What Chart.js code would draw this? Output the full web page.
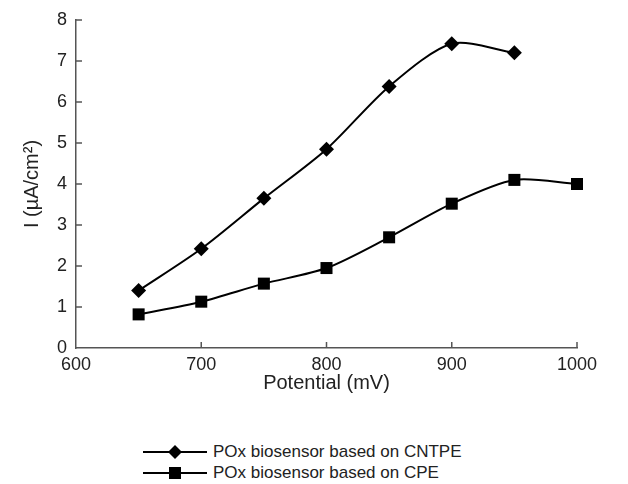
<!DOCTYPE html>
<html>
<head>
<meta charset="utf-8">
<script src="https://cdn.jsdelivr.net/npm/chart.js@4/dist/chart.umd.min.js"></script>
<style>
  html, body { margin: 0; padding: 0; background: #fff; }
  #wrap { position: relative; width: 628px; height: 484px; }
  #chartBox { position: absolute; left: 0; top: 0; width: 628px; height: 400px; }
  #legend { position: absolute; left: 143px; top: 441px; font-family: "Liberation Sans", Arial, sans-serif; font-size: 17px; color: #222; }
  .row { display: flex; align-items: center; height: 21px; }
  .row svg { margin-right: 6px; }
</style>
</head>
<body>
<div id="wrap">
  <div id="chartBox"><canvas id="c"></canvas></div>
  <div id="legend">
    <div class="row"><svg width="64" height="16"><line x1="0" y1="8" x2="64" y2="8" stroke="#000" stroke-width="2"/><polygon points="32,1 39,8 32,15 25,8" fill="#000"/></svg><span id="l1"></span></div>
    <div class="row"><svg width="64" height="16"><line x1="0" y1="8" x2="64" y2="8" stroke="#000" stroke-width="2"/><rect x="26" y="2" width="12" height="12" fill="#000"/></svg><span id="l2"></span></div>
  </div>
</div>
<script>
const seriesNames = ["POx biosensor based on CNTPE", "POx biosensor based on CPE"];
const potentialCNTPE = [650, 700, 750, 800, 850, 900, 950];
const currentCNTPE = [1.40, 2.42, 3.65, 4.85, 6.38, 7.42, 7.20];
const potentialCPE = [650, 700, 750, 800, 850, 900, 950, 1000];
const currentCPE = [0.82, 1.13, 1.57, 1.95, 2.70, 3.52, 4.10, 4.00];
const xTicks = [600, 700, 800, 900, 1000];
const yTicks = [0, 1, 2, 3, 4, 5, 6, 7, 8];
const xTitle = "Potential (mV)";
const yTitle = "I (\u00B5A/cm\u00B2)";

document.getElementById('l1').textContent = seriesNames[0];
document.getElementById('l2').textContent = seriesNames[1];

const toXY = (xs, ys) => xs.map((x, i) => ({x: x, y: ys[i]}));
const FONT = "'Liberation Sans', Arial, sans-serif";
const AXIS = '#555';

const inwardTicks = {
  id: 'inwardTicks',
  afterDraw(chart) {
    const ctx = chart.ctx;
    const xs = chart.scales.x, ys = chart.scales.y;
    ctx.save();
    ctx.strokeStyle = AXIS;
    ctx.lineWidth = 1.5;
    ctx.beginPath();
    xTicks.forEach(v => {
      if (v === 600) return;
      const px = xs.getPixelForValue(v);
      ctx.moveTo(px, ys.bottom);
      ctx.lineTo(px, ys.bottom - 6);
    });
    yTicks.forEach(v => {
      if (v === 0) return;
      const py = ys.getPixelForValue(v);
      ctx.moveTo(xs.left, py);
      ctx.lineTo(xs.left + 6, py);
    });
    ctx.stroke();
    ctx.restore();
  }
};

new Chart(document.getElementById('c'), {
  type: 'line',
  data: {
    datasets: [
      {
        label: seriesNames[0],
        data: toXY(potentialCNTPE, currentCNTPE),
        borderColor: '#000', backgroundColor: '#000',
        borderWidth: 2, tension: 0.28, clip: false,
        pointStyle: 'rectRot', pointRadius: 7.5, pointHoverRadius: 7.5,
        pointBorderWidth: 0
      },
      {
        label: seriesNames[1],
        data: toXY(potentialCPE, currentCPE),
        borderColor: '#000', backgroundColor: '#000',
        borderWidth: 2, tension: 0.28, clip: false,
        pointStyle: 'rect', pointRadius: 8.5, pointHoverRadius: 8.5,
        pointBorderWidth: 0
      }
    ]
  },
  options: {
    responsive: true,
    maintainAspectRatio: false,
    animation: false,
    events: [],
    layout: { padding: { left: 0, right: 51, top: 20, bottom: 0 } },
    plugins: { legend: { display: false }, tooltip: { enabled: false } },
    scales: {
      x: {
        type: 'linear', min: 600, max: 1000,
        afterBuildTicks: s => { s.ticks = xTicks.map(v => ({value: v})); },
        afterFit: s => { s.height = 52; },
        grid: { display: true, drawOnChartArea: false, drawTicks: false },
        border: { display: true, color: AXIS, width: 1.5 },
        ticks: { color: '#222', font: { family: FONT, size: 18 }, padding: 6, maxRotation: 0, callback: v => String(v) },
        title: { display: true, text: xTitle, color: '#222', font: { family: FONT, size: 20 }, padding: { top: 0, bottom: 5 } }
      },
      y: {
        type: 'linear', min: 0, max: 8,
        afterBuildTicks: s => { s.ticks = yTicks.map(v => ({value: v})); },
        afterFit: s => { s.width = 76; },
        grid: { display: true, drawOnChartArea: false, drawTicks: false },
        border: { display: true, color: AXIS, width: 1.5 },
        ticks: { color: '#222', font: { family: FONT, size: 18 }, padding: 9, callback: v => String(v) },
        title: { display: true, text: yTitle, color: '#222', font: { family: FONT, size: 20 }, padding: { top: 20, bottom: 0 } }
      }
    }
  },
  plugins: [inwardTicks]
});
</script>
</body>
</html>
